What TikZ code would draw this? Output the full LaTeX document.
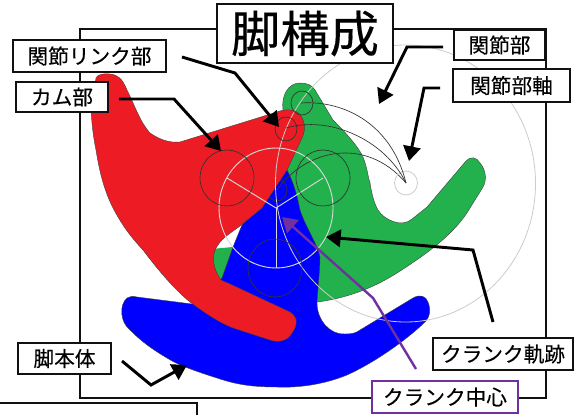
\documentclass[tikz,border=0pt]{standalone}
\usepackage{fontspec}
\setmainfont{Liberation Sans}
\newfontfamily\cjk[FakeBold=0.3]{Noto Sans CJK JP}
\usetikzlibrary{arrows.meta}
\definecolor{redpart}{HTML}{ED1C24}
\definecolor{greenpart}{HTML}{22B14C}
\definecolor{bluepart}{HTML}{0000FF}
\definecolor{purplepart}{HTML}{7030A0}
\definecolor{frameblack}{HTML}{111111}
\tikzset{
  lbl/.style={draw=frameblack,fill=white,line width=2.2pt,inner sep=0pt,font=\cjk\fontsize{15.5pt}{16pt}\selectfont,text=black},
  lead/.style={draw=black,line width=2.2pt,-{Triangle[length=11pt,width=13pt]}},
  leadp/.style={draw=purplepart,line width=1.8pt,-{Triangle[length=11pt,width=13pt]}},
  part/.style={draw=black!75,line width=0.3pt},
  cam/.style={draw=black!80,line width=0.5pt},
  guide/.style={draw=black!20,line width=0.6pt},
  guidew/.style={draw=black!15,line width=0.7pt},
  swing/.style={draw=black!80,line width=0.5pt},
}
\begin{document}
\begin{tikzpicture}[x=0.75pt,y=-0.75pt]
\useasboundingbox (0,0) rectangle (574,414);
\clip (0,0) rectangle (574,414);
\fill[white] (0,0) rectangle (574,414);
% frame
\draw[draw=frameblack,line width=2.2pt] (80,29) rectangle (546,398);
% green
\fill[greenpart] (283,110) .. controls (281,96) and (288,83) .. (300,83)
  .. controls (307,83) and (312,85) .. (315,90) -- (333,120)
  .. controls (345,132) and (358,146) .. (363,157)
  .. controls (368,170) and (368,178) .. (370,183)
  .. controls (372,195) and (374,203) .. (378,210)
  .. controls (384,220) and (402,228) .. (412,219)
  -- (427,207) -- (466,161)
  .. controls (470,156) and (477,157) .. (480,163)
  .. controls (486,170) and (487,180) .. (483,187)
  -- (470,208)
  .. controls (456,232) and (430,252) .. (397,273)
  .. controls (370,290) and (345,298) .. (318,302)
  -- (270,300) -- (200,280) -- (200,250) -- (233,247) -- (240,240) -- (262,195) -- cycle;
\draw[part] (283,110) .. controls (281,96) and (288,83) .. (300,83)
  .. controls (307,83) and (312,85) .. (315,90) -- (333,120)
  .. controls (345,132) and (358,146) .. (363,157)
  .. controls (368,170) and (368,178) .. (370,183)
  .. controls (372,195) and (374,203) .. (378,210)
  .. controls (384,220) and (402,228) .. (412,219)
  -- (427,207) -- (466,161)
  .. controls (470,156) and (477,157) .. (480,163)
  .. controls (486,170) and (487,180) .. (483,187)
  -- (470,208)
  .. controls (456,232) and (430,252) .. (397,273)
  .. controls (370,290) and (345,298) .. (318,302);
% blue
\path[fill=bluepart,part] (287,170) .. controls (295,185) and (298,200) .. (300,210)
  .. controls (306,228) and (318,245) .. (320,257)
  .. controls (320,270) and (318,285) .. (317,303)
  .. controls (317,320) and (330,335) .. (345,334)
  .. controls (352,334) and (356,333) .. (360,330)
  -- (413,298) .. controls (420,294) and (426,296) .. (428,302)
  .. controls (431,310) and (430,316) .. (426,321)
  .. controls (412,335) and (380,360) .. (347,375)
  .. controls (325,384) and (300,388) .. (277,387)
  .. controls (250,387) and (235,384) .. (217,378)
  .. controls (195,371) and (178,365) .. (167,358)
  .. controls (150,348) and (140,340) .. (130,330)
  .. controls (120,322) and (119,305) .. (127,298)
  .. controls (130,296) and (133,296) .. (137,297)
  -- (192,304) -- (222,278) -- (233,247) -- (242,225) -- cycle;
% parts hidden behind the red piece
\coordinate (axis) at (406,183);
\coordinate (j1) at (301,103);
\coordinate (j2) at (286,128);
\coordinate (j3) at (277,190);
\draw[cam] (j3) ellipse [x radius=10,y radius=11];
\draw[swing] (j3) .. controls (305,150) and (365,135) .. (axis);
% red
\path[fill=redpart,part] (110,74) .. controls (103,73) and (97,75) .. (96,78)
  -- (91,110) .. controls (92,125) and (93,135) .. (96,150)
  .. controls (100,175) and (105,192) .. (113,208)
  .. controls (122,225) and (130,236) .. (143,250)
  .. controls (158,270) and (175,290) .. (190,302)
  .. controls (205,313) and (218,322) .. (233,328)
  -- (270,340) .. controls (278,343) and (288,341) .. (292,333)
  .. controls (298,325) and (298,317) .. (290,312)
  -- (228,283) .. controls (222,281) and (220,280) .. (218,275)
  .. controls (212,265) and (212,252) .. (218,245)
  .. controls (222,238) and (232,232) .. (240,226)
  -- (262,208) -- (287,170)
  -- (302,138) .. controls (307,128) and (304,117) .. (297,112)
  .. controls (291,109) and (285,109) .. (277,112)
  -- (180,142) .. controls (170,143) and (160,140) .. (150,133)
  .. controls (140,122) and (135,106) .. (127,90)
  .. controls (122,78) and (118,75) .. (110,74) -- cycle;
% guide lines
\draw[guide] (405.5,183.5) ellipse [x radius=130,y radius=138.5];
\draw[guidew] (276,208) ellipse [x radius=57,y radius=60];
\draw[guidew] (276,208) -- (227,178);
\draw[guidew] (276,208) -- (323,178);
\draw[guidew] (276,208) -- (276,268);
\draw[guide] (406,183) ellipse [x radius=11.5,y radius=12];
% cams
\draw[cam] (227,178) ellipse [x radius=27,y radius=28];
\draw[cam] (323,178) ellipse [x radius=27,y radius=28];
\draw[cam] (275,268) ellipse [x radius=27,y radius=29];
\draw[cam] (302,103) ellipse [x radius=11,y radius=12];
\draw[cam] (286,129) ellipse [x radius=11,y radius=12];
% swing arcs
\draw[swing] (j1) .. controls (345,100) and (392,125) .. (axis);
\draw[swing] (j2) .. controls (330,115) and (385,140) .. (axis);
% labels
\node[lbl,minimum width=176*0.75pt,minimum height=59*0.75pt,font=\cjk\fontsize{37pt}{38pt}\selectfont] (title) at (305,33.5) {脚構成};
\node[lbl,minimum width=153*0.75pt,minimum height=32*0.75pt] (link) at (89.5,56) {関節リンク部};
\node[lbl,minimum width=92*0.75pt,minimum height=30*0.75pt] (camlbl) at (62,97) {カム部};
\node[lbl,minimum width=91*0.75pt,minimum height=30*0.75pt] (joint) at (499.5,45) {関節部};
\node[lbl,minimum width=117*0.75pt,minimum height=33*0.75pt] (jaxis) at (511.5,85.5) {関節部軸};
\node[lbl,minimum width=93*0.75pt,minimum height=31*0.75pt] (body) at (64.5,358.5) {脚本体};
\node[lbl,minimum width=140*0.75pt,minimum height=32*0.75pt] (track) at (503,354) {クランク軌跡};
\node[lbl,draw=purplepart,minimum width=146*0.75pt,minimum height=32*0.75pt] (centre) at (445,397) {クランク中心};
% bottom cropped box
\draw[draw=frameblack,line width=2.2pt,fill=white] (-5,403) rectangle (197,420);
% leaders
\coordinate (s1) at (182,57);
\coordinate (s2) at (119,99);
\coordinate (s3) at (443,47);
\coordinate (s4) at (440,88);
\coordinate (s5) at (122,361);
\coordinate (s6) at (493,322);
\coordinate (s7) at (416,369);
\draw[lead] (s1) -- (235,73) -- (279,127);
\draw[lead] (s2) -- (174,99) -- (221,151);
\draw[lead] (s3) -- (407,47) -- (379,104);
\draw[lead] (s4) -- (424,88) -- (409,161);
\draw[lead] (s5) -- (151,385) -- (187,365);
\draw[lead] (s6) -- (473,250) -- (326,237);
\draw[leadp] (s7) -- (373,298) -- (282,217);
\end{tikzpicture}
\end{document}
